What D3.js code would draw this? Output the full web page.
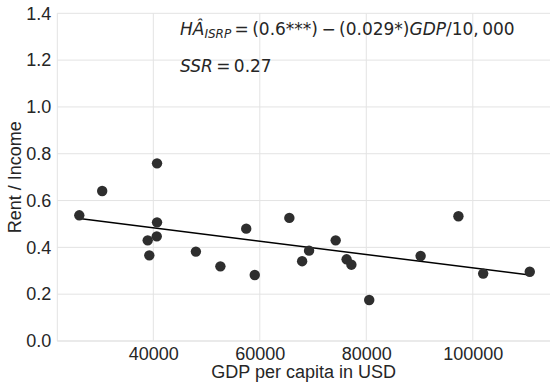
<!DOCTYPE html>
<html>
<head>
<meta charset="utf-8">
<script src="https://cdn.jsdelivr.net/npm/d3@7"></script>
<style>
  body { margin: 0; background: #fff; }
  svg { display: block; }
</style>
</head>
<body>
<svg id="chart"></svg>
<script>
// GDP per capita (USD) and rent / income share
const gdp = [26100, 30400, 40700, 40700, 38950, 40650, 39250, 48000, 52600, 57450,
  59050, 65550, 67950, 69250, 74250, 76300, 77200, 80550, 90200, 97300, 101950, 110700];
const rentIncome = [0.537, 0.641, 0.759, 0.507, 0.430, 0.447, 0.366, 0.382, 0.319, 0.480,
  0.282, 0.526, 0.341, 0.386, 0.430, 0.349, 0.326, 0.175, 0.363, 0.533, 0.288, 0.296];

// fitted line end points
const fitX = [26100, 110700];
const fitY = [0.523, 0.282];

const xTicks = [40000, 60000, 80000, 100000];
const yTicks = [0, 0.2, 0.4, 0.6, 0.8, 1.0, 1.2, 1.4];

const width = 550, height = 385;
const margin = { top: 13.3, right: 0, bottom: 44, left: 57.3 };

const svg = d3.select('#chart')
  .attr('width', width)
  .attr('height', height);

const x = d3.scaleLinear()
  .domain([21970, 114500])
  .range([margin.left, width - margin.right]);

const y = d3.scaleLinear()
  .domain([0, 1.4])
  .range([height - margin.bottom, margin.top]);

const gridColor = '#e3e3e3';
const textColor = '#262626';
const sans = 'Liberation Sans, Arial, sans-serif';

// grid
svg.append('g')
  .selectAll('line')
  .data(yTicks)
  .enter()
  .append('line')
  .attr('x1', x.range()[0])
  .attr('x2', x.range()[1])
  .attr('y1', d => y(d))
  .attr('y2', d => y(d))
  .attr('stroke', gridColor)
  .attr('stroke-width', 1);

svg.append('g')
  .selectAll('line')
  .data(xTicks)
  .enter()
  .append('line')
  .attr('x1', d => x(d))
  .attr('x2', d => x(d))
  .attr('y1', y.range()[0])
  .attr('y2', y.range()[1])
  .attr('stroke', gridColor)
  .attr('stroke-width', 1);

// spines (left + bottom)
svg.append('line')
  .attr('x1', x.range()[0]).attr('x2', x.range()[0])
  .attr('y1', y.range()[0]).attr('y2', y.range()[1])
  .attr('stroke', gridColor);
svg.append('line')
  .attr('x1', x.range()[0]).attr('x2', x.range()[1])
  .attr('y1', y.range()[0]).attr('y2', y.range()[0])
  .attr('stroke', gridColor);

// axes, ticks hidden, only labels
const xAxis = svg.append('g')
  .attr('transform', `translate(0,${y.range()[0]})`)
  .call(d3.axisBottom(x).tickValues(xTicks).tickFormat(d3.format('d')).tickSize(0).tickPadding(6));

const yAxis = svg.append('g')
  .attr('transform', `translate(${x.range()[0]},0)`)
  .call(d3.axisLeft(y).tickValues(yTicks).tickFormat(d3.format('.1f')).tickSize(0).tickPadding(6));

[xAxis, yAxis].forEach(a => {
  a.select('.domain').remove();
  a.selectAll('text')
    .attr('fill', textColor)
    .style('font-family', sans)
    .style('font-size', '18px');
});

// axis titles
svg.append('text')
  .attr('x', (x.range()[0] + x.range()[1]) / 2)
  .attr('y', 378)
  .attr('text-anchor', 'middle')
  .attr('fill', textColor)
  .style('font-family', sans)
  .style('font-size', '18px')
  .text('GDP per capita in USD');

svg.append('text')
  .attr('transform', `translate(21,${(y.range()[0] + y.range()[1]) / 2}) rotate(-90)`)
  .attr('text-anchor', 'middle')
  .attr('fill', textColor)
  .style('font-family', sans)
  .style('font-size', '18px')
  .text('Rent / Income');

// fitted line
const pts = fitX.map((d, i) => [d, fitY[i]]);
svg.append('path')
  .attr('d', d3.line().x(d => x(d[0])).y(d => y(d[1]))(pts))
  .attr('fill', 'none')
  .attr('stroke', '#000')
  .attr('stroke-width', 1.5);

// points
svg.append('g')
  .selectAll('circle')
  .data(gdp.map((d, i) => ({ gdp: d, v: rentIncome[i] })))
  .enter()
  .append('circle')
  .attr('cx', d => x(d.gdp))
  .attr('cy', d => y(d.v))
  .attr('r', 5.2)
  .attr('fill', '#2e2e2e');

// annotation
const ann = svg.append('g')
  .style('font-family', 'DejaVu Sans, sans-serif')
  .style('font-size', '17px')
  .attr('fill', textColor);

const t1 = ann.append('text').attr('x', 180).attr('y', 35);
t1.append('tspan').style('font-style', 'italic').text('HÂ');
t1.append('tspan').style('font-style', 'italic').style('font-size', '12px').attr('dy', 3).text('ISRP');
t1.append('tspan').attr('dy', -3).text('\u2009=\u2009(0.6***)\u2009\u2212\u2009(0.029*)');
t1.append('tspan').style('font-style', 'italic').text('GDP');
t1.append('tspan').text('/10,\u2009000');

const t2 = ann.append('text').attr('x', 180).attr('y', 72);
t2.append('tspan').style('font-style', 'italic').text('SSR');
t2.append('tspan').text('\u2009=\u20090.27');
</script>
</body>
</html>
